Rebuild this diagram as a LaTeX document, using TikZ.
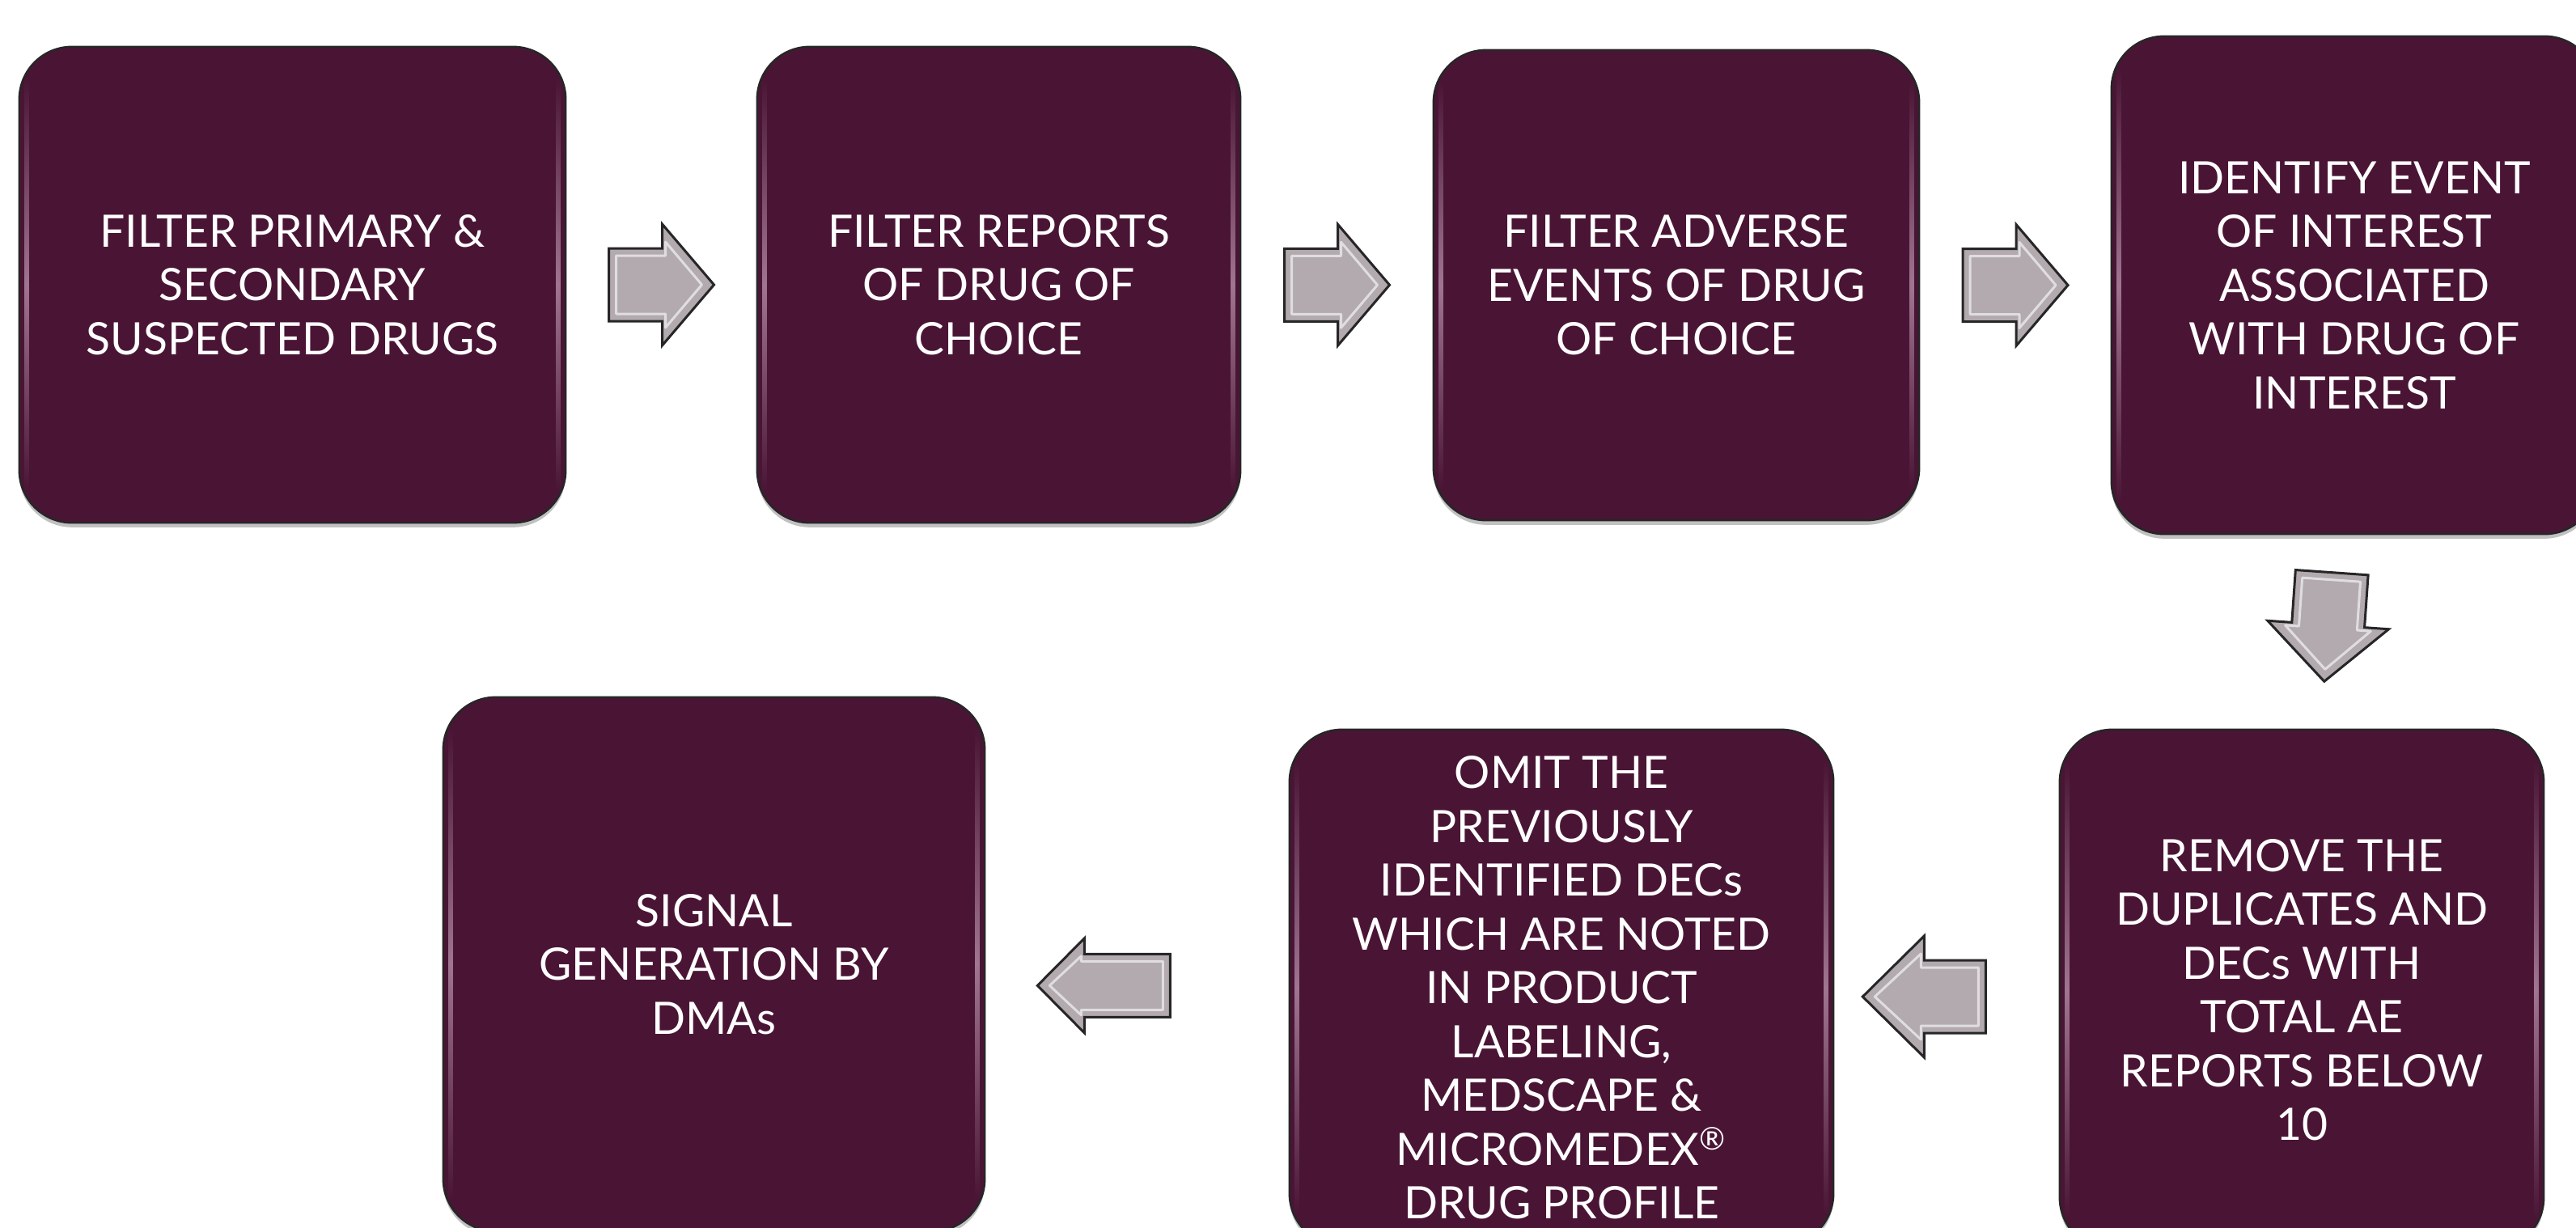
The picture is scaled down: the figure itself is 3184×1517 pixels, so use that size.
\documentclass[tikz,border=0pt]{standalone}
\usepackage{fontspec}
\setmainfont{Lato}
\usetikzlibrary{calc,shadows}

\definecolor{plum}{HTML}{4A1535}
\definecolor{plumedge}{HTML}{A07592}
\definecolor{arrowgray}{HTML}{B2AAAF}
\definecolor{rim}{HTML}{262626}

\tikzset{
  stepbox/.style={
    rounded corners=0.65cm, fill=plum, draw=rim, line width=0.025cm,
    text=white, align=center, inner sep=0pt,
    font=\fontsize{15.7pt}{18.9pt}\selectfont,
    drop shadow={shadow xshift=0pt, shadow yshift=-1.6pt, opacity=0.35, fill=black!70}
  },
  gloss/.style={top color=plum, bottom color=plum, middle color=plumedge},
  arrowbody/.style={fill=arrowgray, draw=black!85, line width=0.03cm, line join=miter},
  arrowbevel/.style={draw=white, opacity=0.6, line width=0.03cm, line join=round},
  pics/barrow/.style args={#1/#2/#3/#4}{code={
    % #1 length, #2 shaft thickness, #3 head width, #4 head length
    \path[arrowbody]
      (-#1/2,-#2/2) -- (#1/2-#4,-#2/2) -- (#1/2-#4,-#3/2) -- (#1/2,0)
      -- (#1/2-#4,#3/2) -- (#1/2-#4,#2/2) -- (-#1/2,#2/2) -- cycle;
    \path[arrowbevel]
      (-#1/2+9,-#2/2+9) -- (#1/2-#4+4,-#2/2+9) -- (#1/2-#4+4,-#3/2+22)
      -- (#1/2-15,0) -- (#1/2-#4+4,#3/2-22) -- (#1/2-#4+4,#2/2-9)
      -- (-#1/2+9,#2/2-9) -- cycle;
  }}
}

\begin{document}
\begin{tikzpicture}[x=0.01cm, y=-0.01cm]
\useasboundingbox (0,0) rectangle (3184,1517);
\clip (0,0) rectangle (3184,1517);

% process steps
\node[stepbox, minimum width=6.75cm, minimum height=5.88cm] (b1) at (361.5,352)
  {FILTER PRIMARY \&\\SECONDARY\\SUSPECTED DRUGS};
\node[stepbox, minimum width=5.97cm, minimum height=5.88cm] (b2) at (1234.5,352)
  {FILTER REPORTS\\OF DRUG OF\\CHOICE};
\node[stepbox, minimum width=6.00cm, minimum height=5.81cm] (b3) at (2072,352.5)
  {FILTER ADVERSE\\EVENTS OF DRUG\\OF CHOICE};
\node[stepbox, minimum width=6.00cm, minimum height=6.15cm] (b4) at (2910,352.5)
  {IDENTIFY EVENT\\OF INTEREST\\ASSOCIATED\\WITH DRUG OF\\INTEREST};
\node[stepbox, minimum width=5.98cm, minimum height=6.43cm] (b5) at (2845,1223.5)
  {REMOVE THE\\DUPLICATES AND\\DECs WITH\\TOTAL AE\\REPORTS BELOW\\10};
\node[stepbox, minimum width=6.72cm, minimum height=6.38cm] (b6) at (1930,1221)
  {OMIT THE\\PREVIOUSLY\\IDENTIFIED DECs\\WHICH ARE NOTED\\IN PRODUCT\\LABELING,\\MEDSCAPE \&\\MICROMEDEX\textsuperscript{®}\\DRUG PROFILE};
\node[stepbox, minimum width=6.69cm, minimum height=6.60cm] (b7) at (882.5,1192)
  {SIGNAL\\GENERATION BY\\DMAs};

% glossy highlight strips down the sides of each step
\foreach \b in {b1,b2,b3,b4,b5,b6,b7}{
  \shade[gloss] ($(\b.north west)+(8,40)$) rectangle ($(\b.south west)+(13,-40)$);
  \shade[gloss] ($(\b.north east)+(-13,40)$) rectangle ($(\b.south east)+(-8,-40)$);
}

% block arrows between the steps
\pic at ($(b1.east)!0.5!(b2.west)$) {barrow=130/90/150/64};
\pic at ($(b2.east)!0.5!(b3.west)$) {barrow=130/90/150/64};
\pic at ($(b3.east)!0.5!(b4.west)$) {barrow=130/90/150/64};
\pic[rotate=-94] at ($(b4.south)!0.5!(b5.north)+(0,-6)$) {barrow=135/90/150/70};
\pic[rotate=180] at ($(b6.east)!0.4!(b5.west)+(0,10)$) {barrow=152/90/150/76};
\pic[rotate=180] at ($(b7.east)!0.39!(b6.west)+(0,15)$) {barrow=164/78/117/58};
\end{tikzpicture}
\end{document}
